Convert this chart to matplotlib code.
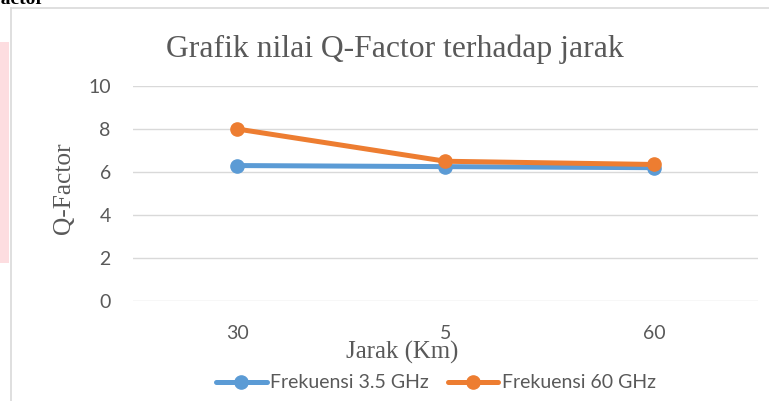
import matplotlib
matplotlib.use("Agg")
import matplotlib.pyplot as plt
from matplotlib.lines import Line2D
from matplotlib.patches import Rectangle

# data
jarak = ["30", "5", "60"]
q_35ghz = [6.3, 6.25, 6.2]
q_60ghz = [8.0, 6.5, 6.35]
y_ticks = [0, 2, 4, 6, 8, 10]

blue = "#5B9BD5"
orange = "#ED7D31"
grey_txt = "#595959"
grid_c = "#D9D9D9"

W, H = 769, 401
fig = plt.figure(figsize=(W / 100, H / 100), dpi=100)

# pink strip and cut-off heading at the far left / top
fig.patches.append(Rectangle((0, 1 - 263 / H), 9 / W, 221 / H, transform=fig.transFigure,
                             facecolor="#FDDDE0", edgecolor="none"))
fig.text(44 / W, 1 - 3 / H, "Q-Factor", ha="right", va="baseline", fontsize=14,
         fontweight="bold", family="Liberation Serif", color="black")

# chart frame (only top and left edge visible)
fig.add_artist(Line2D([11 / W, 1], [1 - 8 / H, 1 - 8 / H], transform=fig.transFigure,
                      color=grid_c, lw=1.2))
fig.add_artist(Line2D([11 / W, 11 / W], [0, 1 - 8 / H], transform=fig.transFigure,
                      color=grid_c, lw=1.2))

ax = fig.add_axes([133 / W, (H - 301) / H, (758 - 133) / W, (301 - 86) / H])
x = range(len(jarak))
ax.plot(x, q_35ghz, color=blue, lw=3.6, marker="o", ms=9.5, label="Frekuensi 3.5 GHz",
        solid_capstyle="round", zorder=3)
ax.plot(x, q_60ghz, color=orange, lw=3.6, marker="o", ms=9.5, label="Frekuensi 60 GHz",
        solid_capstyle="round", zorder=4)

ax.set_xlim(-0.5, 2.5)
ax.set_ylim(0, 10)
ax.set_xticks(list(x))
ax.set_xticklabels(jarak)
ax.set_yticks(y_ticks)
ax.grid(axis="y", color=grid_c, lw=1.0)
ax.set_axisbelow(True)
for s in ax.spines.values():
    s.set_visible(False)
ax.tick_params(length=0, labelsize=14, labelcolor=grey_txt)
ax.tick_params(axis="x", pad=17)
ax.tick_params(axis="y", pad=16)
for lab in ax.get_xticklabels() + ax.get_yticklabels():
    lab.set_family("Lato")

fig.text(395 / W, 1 - 49 / H, "Grafik nilai Q-Factor terhadap jarak", ha="center",
         va="center", fontsize=22.8, family="Liberation Serif", color=grey_txt)
fig.text(64 / W, 1 - 188 / H, "Q-Factor", ha="center", va="center", rotation=90,
         fontsize=18.3, family="Liberation Serif", color=grey_txt)
fig.text(402 / W, 1 - 352 / H, "Jarak (Km)", ha="center", va="center",
         fontsize=17.8, family="Liberation Serif", color=grey_txt)

leg = fig.legend(loc="center", bbox_to_anchor=(436 / W, 1 - 383 / H), ncol=2, frameon=False,
                 prop={"family": "Lato", "size": 14}, handlelength=2.6, handletextpad=0.2,
                 columnspacing=0.95, borderaxespad=0)
for t in leg.get_texts():
    t.set_color(grey_txt)

fig.savefig("out.png", dpi=100)
